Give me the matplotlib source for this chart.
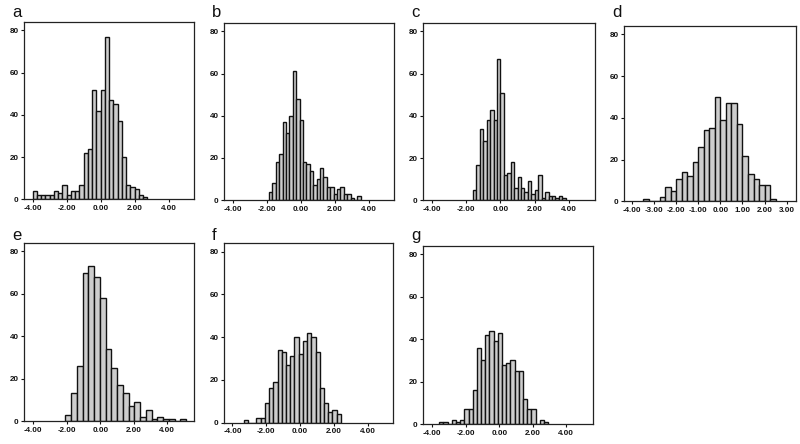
import matplotlib
matplotlib.use("Agg")
import matplotlib.pyplot as plt
import numpy as np

plt.rcParams['font.family'] = ['Liberation Sans', 'DejaVu Sans']

# ---- data (bin start, bin width, counts) ----
panel_labels = ['a', 'b', 'c', 'd', 'e', 'f', 'g']

a_start, a_width = -4.0, 0.25
a_counts = [4, 2, 2, 2, 2, 4, 3, 7, 2, 4, 4, 7, 22, 24, 52, 42, 52, 77, 47, 45, 37, 20, 7, 6, 5, 2, 1]

b_start, b_width = -1.85, 0.2
b_counts = [4, 8, 18, 22, 37, 32, 40, 61, 48, 38, 18, 17, 14, 7, 10, 15, 11, 6, 6, 3, 5, 6, 3, 3, 1, 0, 2]

c_start, c_width = -1.6, 0.2
c_counts = [5, 17, 34, 28, 38, 43, 38, 67, 51, 12, 13, 18, 6, 11, 6, 4, 9, 3, 5, 12, 1, 4, 2, 2, 1, 2, 1]

d_start, d_width = -3.5, 0.25
d_counts = [1, 0, 0, 2, 7, 5, 11, 14, 12, 19, 26, 34, 35, 50, 39, 47, 47, 37, 22, 13, 11, 8, 8, 1]

e_start, e_width = -2.08, 0.343
e_counts = [3, 13, 26, 70, 73, 68, 58, 34, 25, 17, 13, 7, 9, 2, 5, 1, 2, 1, 1, 0, 1]

f_start, f_width = -3.33, 0.25
f_counts = [1, 0, 0, 2, 2, 9, 16, 19, 34, 33, 27, 31, 40, 32, 38, 42, 40, 33, 16, 9, 5, 6, 4]

g_start, g_width = -3.58, 0.25
g_counts = [1, 1, 0, 2, 1, 2, 7, 7, 16, 36, 30, 42, 44, 39, 43, 28, 29, 30, 25, 25, 12, 7, 7, 0, 2, 1]

xticks_std = [-4, -2, 0, 2, 4]
xticklabels_std = ['-4.00', '-2.00', '0.00', '2.00', '4.00']
xticks_d = [-4, -3, -2, -1, 0, 1, 2, 3]
xticklabels_d = ['-4.00', '-3.00', '-2.00', '-1.00', '0.00', '1.00', '2.00', '3.00']
yticks = [0, 20, 40, 60, 80]

# ---- layout (pixel boxes: left, top, right, bottom) ----
W, H = 800, 444
boxes = {
    'a': (24, 22, 194, 199.5),
    'b': (224, 23, 394, 200),
    'c': (423, 23, 595, 200.5),
    'd': (624, 26, 796, 201.5),
    'e': (24, 243, 194, 421),
    'f': (224, 243, 393, 422.5),
    'g': (423, 246, 593, 424),
}
label_baseline = {'a': 17, 'b': 17, 'c': 17, 'd': 17, 'e': 240, 'f': 240, 'g': 240}
xlims = {
    'a': (-4.5, 5.5), 'b': (-4.5, 5.5), 'c': (-4.5, 5.5), 'd': (-4.36, 3.42),
    'e': (-4.55, 5.6), 'f': (-4.5, 5.5), 'g': (-4.55, 5.6),
}
panels = {
    'a': (a_start, a_width, a_counts),
    'b': (b_start, b_width, b_counts),
    'c': (c_start, c_width, c_counts),
    'd': (d_start, d_width, d_counts),
    'e': (e_start, e_width, e_counts),
    'f': (f_start, f_width, f_counts),
    'g': (g_start, g_width, g_counts),
}

fig = plt.figure(figsize=(8, 4.44), dpi=100)
fig.patch.set_facecolor('white')

for lab in panel_labels:
    l, t, r, b = boxes[lab]
    ax = fig.add_axes([l / W, 1 - b / H, (r - l) / W, (b - t) / H])
    start, width, counts = panels[lab]
    edges = start + width * np.arange(len(counts))
    ax.bar(edges, counts, width=width, align='edge', color='#cdcdcd',
           edgecolor='#111111', linewidth=1.0)
    ax.set_xlim(*xlims[lab])
    ax.set_ylim(0, 84)
    if lab == 'd':
        ax.set_xticks(xticks_d)
        ax.set_xticklabels(xticklabels_d)
    else:
        ax.set_xticks(xticks_std)
        ax.set_xticklabels(xticklabels_std)
    ax.set_yticks(yticks)
    ax.set_yticklabels([str(v) for v in yticks])
    ax.tick_params(axis='both', direction='out', length=2.5, width=0.8,
                   labelsize=5.8, pad=1.5, colors='#111111')
    for tl in ax.get_xticklabels() + ax.get_yticklabels():
        tl.set_fontweight('bold')
    for sp in ax.spines.values():
        sp.set_linewidth(0.9)
        sp.set_color('#222222')
    fig.text((l - 12) / W, 1 - label_baseline[lab] / H, lab, fontsize=12,
             ha='left', va='baseline', color='#111111')

fig.savefig('out.png', dpi=100, facecolor='white')
